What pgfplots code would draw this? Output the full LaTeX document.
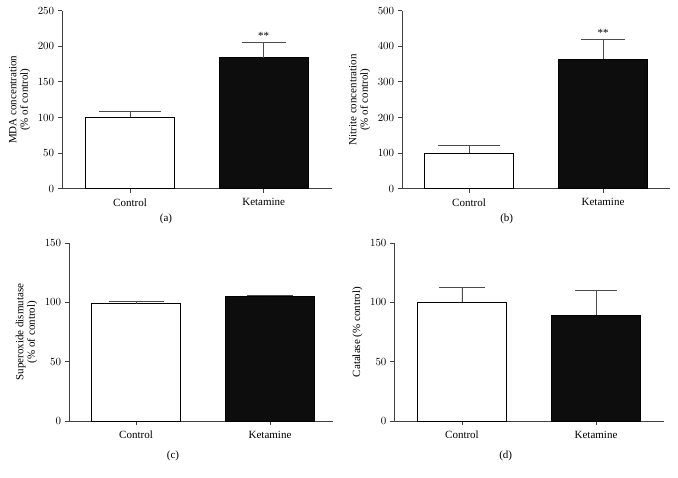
\documentclass[border=0pt]{standalone}
\usepackage{fontspec}
\setmainfont{Liberation Serif}
\usepackage{pgfplots}
\pgfplotsset{compat=1.18}
\begin{document}
\fontsize{11bp}{12bp}\selectfont
\begin{tikzpicture}
\pgfplotsset{
 panel/.style={
  scale only axis, height=178bp,
  axis x line*=bottom, axis y line*=left,
  axis line style={black!75, line width=0.8pt},
  xtick={0,1}, xticklabels={Control,Ketamine},
  tick align=outside, major tick length=4bp,
  tick style={black!75, line width=0.8pt},
  tick label style={font=\fontsize{11bp}{12bp}\selectfont},
  x tick label style={yshift=-2bp},
  label style={font=\fontsize{11bp}{11.5bp}\selectfont},
  ylabel style={align=center},
  ymin=0, clip=false,
 },
 ctrl/.style={ybar, bar width=0.665, fill=white, draw=black, line width=0.8pt,
   error bars/.cd, y dir=plus, y explicit,
   error bar style={black!70, line width=0.8pt},
   error mark options={black!70, line width=0.8pt, mark size=#1, rotate=90}},
 ket/.style={ybar, bar width=0.665, fill=black!95, draw=black, line width=0.8pt,
   error bars/.cd, y dir=plus, y explicit,
   error bar style={black!70, line width=0.8pt},
   error mark options={black!70, line width=0.8pt, mark size=#1, rotate=90}},
}
\path[use as bounding box] (0,0) rectangle (678bp,478bp);
% (a)
\begin{axis}[panel, at={(62bp,289.3bp)}, anchor=south west, width=270bp,
  xmin=-0.509, xmax=1.511, ymax=250, ytick={0,50,...,250},
  ylabel={MDA concentration\\(\% of control)}]
\addplot[ctrl=31bp] coordinates {(0,100) +- (0,9)};
\addplot[ket=22bp] coordinates {(1,184) +- (0,21.6)};
\node[anchor=south, inner sep=1bp, yshift=2bp] at (axis cs:1,205.6) {**};
\end{axis}
% (b)
\begin{axis}[panel, at={(402bp,289.3bp)}, anchor=south west, width=268bp,
  xmin=-0.5, xmax=1.5, ymax=500, ytick={0,100,...,500},
  ylabel={Nitrite concentration\\(\% of control)}]
\addplot[ctrl=31bp] coordinates {(0,100) +- (0,22)};
\addplot[ket=21.7bp] coordinates {(1,363) +- (0,55)};
\node[anchor=south, inner sep=1bp, yshift=2bp] at (axis cs:1,418) {**};
\end{axis}
% (c)
\begin{axis}[panel, at={(69bp,57bp)}, anchor=south west, width=264bp,
  xmin=-0.5, xmax=1.47, ymax=150, ytick={0,50,...,150},
  ylabel={Superoxide dismutase\\(\% of control)}]
\addplot[ctrl=27.5bp] coordinates {(0,99) +- (0,1.5)};
\addplot[ket=23bp] coordinates {(1,105) +- (0,1)};
\end{axis}
% (d)
\begin{axis}[panel, at={(394.3bp,57bp)}, anchor=south west, width=269.7bp,
  xmin=-0.505, xmax=1.507, ymax=150, ytick={0,50,...,150},
  ylabel={Catalase (\% control)}]
\addplot[ctrl=22.7bp] coordinates {(0,100) +- (0,13)};
\addplot[ket=21bp] coordinates {(1,89) +- (0,21.4)};
\end{axis}
\node at (166bp,259bp) {(a)};
\node at (506.7bp,259bp) {(b)};
\node at (173bp,22bp) {(c)};
\node at (505.7bp,22bp) {(d)};
\end{tikzpicture}
\end{document}
